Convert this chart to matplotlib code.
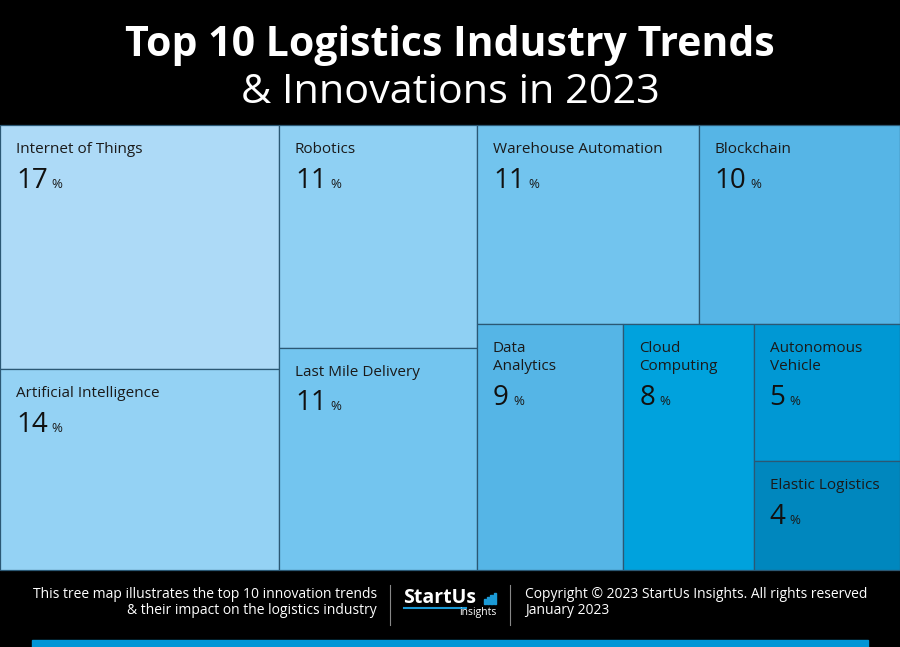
import matplotlib
matplotlib.use("Agg")

import matplotlib.pyplot as plt
from matplotlib.patches import Rectangle

# data
names = ["Internet of Things", "Artificial Intelligence", "Robotics", "Last Mile Delivery",
         "Warehouse Automation", "Blockchain", "Data\nAnalytics", "Cloud\nComputing",
         "Autonomous\nVehicle", "Elastic Logistics"]
values = [17, 14, 11, 11, 11, 10, 9, 8, 5, 4]
colors = ["#ADDAF7", "#94D2F4", "#8FD0F3", "#73C5EF", "#72C4EE",
          "#56B5E6", "#55B5E6", "#00A2DD", "#0098D4", "#0087BE"]

# nesting of the tree map: 'h' = side by side, 'v' = stacked
tree = ("h", [("v", [0, 1]),
              ("v", [2, 3]),
              ("v", [("h", [4, 5]),
                     ("h", [6, 7, ("v", [8, 9])])])])

W, H = 900, 647
TOP, BOTTOM = 125, 570
FONT = "Open Sans"


def total(node):
    if isinstance(node, int):
        return values[node]
    return sum(total(c) for c in node[1])


def layout(node, x, y, w, h, out):
    if isinstance(node, int):
        out[node] = (x, y, w, h)
        return
    kind, kids = node
    s = total(node)
    pos = x if kind == "h" else y
    for k in kids:
        frac = total(k) / s
        if kind == "h":
            layout(k, pos, y, w * frac, h, out)
            pos += w * frac
        else:
            layout(k, x, pos, w, h * frac, out)
            pos += h * frac


rects = {}
layout(tree, 0, TOP, W, BOTTOM - TOP, rects)

fig = plt.figure(figsize=(9, 6.47), dpi=100)
fig.patch.set_facecolor("black")
ax = fig.add_axes([0, 0, 1, 1])
ax.set_xlim(0, W)
ax.set_ylim(H, 0)
ax.axis("off")

renderer = fig.canvas.get_renderer()

for i, (x, y, w, h) in rects.items():
    ax.add_patch(Rectangle((x, y), w, h, facecolor=colors[i], edgecolor="#2B5874", lw=0.9))
    lines = names[i].split("\n")
    for j, line in enumerate(lines):
        ax.text(x + 16, y + 28 + j * 18.5, line, fontsize=11, family=FONT, color="#1a1a1a",
                va="baseline", ha="left")
    ny = y + 28 + (len(lines) - 1) * 18.5 + 35
    t = ax.text(x + 16, ny, str(values[i]), fontsize=20, family=FONT, color="#111111",
                va="baseline", ha="left")
    bb = t.get_window_extent(renderer)
    xr = ax.transData.inverted().transform((bb.x1, bb.y0))[0]
    ax.text(xr + 4, ny, "%", fontsize=9.5, family=FONT, color="#1a1a1a",
            va="baseline", ha="left")

# title
ax.text(W / 2, 56, "Top 10 Logistics Industry Trends", fontsize=29.5, fontweight="bold",
        family=FONT, color="white", ha="center", va="baseline")
ax.text(W / 2, 103, "& Innovations in 2023", fontsize=29.8, family=FONT,
        color="white", ha="center", va="baseline")

# footer
ax.text(377, 595, "This tree map illustrates the top 10 innovation trends", fontsize=10,
        family=FONT, color="white", ha="right", va="center")
ax.text(377, 611, "& their impact on the logistics industry", fontsize=10,
        family=FONT, color="white", ha="right", va="center")
ax.text(525, 595, "Copyright \u00a9 2023 StartUs Insights. All rights reserved", fontsize=10,
        family=FONT, color="white", ha="left", va="center")
ax.text(525, 611, "January 2023", fontsize=10, family=FONT, color="white",
        ha="left", va="center")

for sx in (390, 510):
    ax.plot([sx, sx], [585, 625], color="#888888", lw=0.8)

# logo
ax.text(403, 598, "StartUs", fontsize=14, fontweight="bold", family=FONT,
        color="white", ha="left", va="center")
for k, bh in enumerate([5, 7, 9, 11]):
    ax.add_patch(Rectangle((484 + k * 3.2, 604 - bh), 2.1, bh, color="#1B9AD6"))
ax.plot([404, 466], [608, 608], color="#1B9AD6", lw=1.5)
ax.text(497, 613, "insights", fontsize=7.5, family=FONT, color="white",
        ha="right", va="center")

ax.add_patch(Rectangle((32, 640), 836, 7, color="#0096D6"))

fig.savefig("out.png", dpi=100, facecolor="black")
